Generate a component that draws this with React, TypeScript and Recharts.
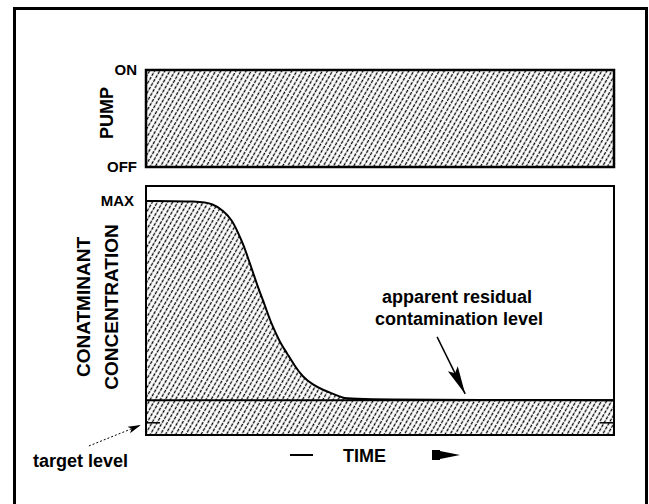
import React from "react";
import { AreaChart, Area, XAxis, YAxis, ReferenceArea, ReferenceLine, Label } from "recharts";

// time axis runs 0..100 (arbitrary units), concentration 0..100 (% of plot height)
const pumpTime = [0, 100];
const pumpState = [1, 1];
const pumpTicks = [0, 1];
const pumpTickLabels = ["OFF", "ON"];

const timePoints = [0, 11.5, 14.3, 16.5, 18.4, 19.6, 20.8, 21.8, 22.9, 23.9, 25.0, 26.1, 27.1, 28.6, 30.1, 31.8, 33.5, 35.7, 37.8, 40.0, 42.1, 43.6, 100];
const concentration = [94, 93.9, 92.8, 90.2, 86.3, 81.5, 76.5, 71.1, 65.1, 59.4, 54.2, 48.2, 43.4, 37.3, 32.9, 27.7, 23.3, 20.1, 18.1, 16.5, 14.9, 14.1, 14];
const concTicks = [94];
const concTickLabels = ["MAX"];

const residualLevel = 14;
const targetLevel = 4.9;

const FONT = "'Liberation Sans', Arial, Helvetica, sans-serif";

const pumpData = pumpTime.map((t, i) => ({ t, pump: pumpState[i] }));
const concData = timePoints.map((t, i) => ({ t, c: concentration[i] }));

function Hatch({ id }: { id: string }) {
  return (
    <pattern id={id} patternUnits="userSpaceOnUse" width="4.4" height="9" patternTransform="rotate(30)">
      <line x1="2.2" y1="0" x2="2.2" y2="9" stroke="#000" strokeWidth="1.3" strokeDasharray="3.2 1.3" />
    </pattern>
  );
}

const PumpLabel = (props: any) => {
  const vb = props.viewBox;
  const cx = vb.x + 21;
  const cy = vb.y + 43;
  return (
    <text x={cx} y={cy} transform={`rotate(-90, ${cx}, ${cy})`} textAnchor="middle" dominantBaseline="central"
      fontFamily={FONT} fontWeight="bold" fontSize={18} fill="#000">
      PUMP
    </text>
  );
};

const ConcLabel = (props: any) => {
  const vb = props.viewBox;
  const cy = vb.y + 121;
  const x1 = vb.x - 3;
  const x2 = vb.x + 25;
  return (
    <g fontFamily={FONT} fontWeight="bold" fontSize={19} fill="#000">
      <text x={x1} y={cy} transform={`rotate(-90, ${x1}, ${cy})`} textAnchor="middle" dominantBaseline="central">
        CONATMINANT
      </text>
      <text x={x2} y={cy} transform={`rotate(-90, ${x2}, ${cy})`} textAnchor="middle" dominantBaseline="central">
        CONCENTRATION
      </text>
    </g>
  );
};

const TimeLabel = (props: any) => {
  const vb = props.viewBox;
  const y = vb.y + 20;
  const ax = vb.x + 286;
  return (
    <g>
      <line x1={vb.x + 144} y1={y} x2={vb.x + 167} y2={y} stroke="#000" strokeWidth={2} />
      <text x={vb.x + 218.5} y={y + 1} textAnchor="middle" dominantBaseline="central" fontFamily={FONT} fontWeight="bold" fontSize={18} fill="#000">
        TIME
      </text>
      <rect x={ax} y={y - 5} width={8} height={10} fill="#000" />
      <polygon points={`${ax + 8},${y - 4} ${ax + 28},${y} ${ax + 8},${y + 4}`} fill="#000" />
    </g>
  );
};

export default function App() {
  return (
    <div style={{ position: "absolute", left: 0, top: 0, width: 649, height: 504, overflow: "hidden", background: "#fff" }}>
      <div style={{ position: "absolute", left: 13, top: 7, width: 629, height: 520, border: "3px solid #000", boxSizing: "content-box" }} />

      <div style={{ position: "absolute", left: 0, top: 0 }}>
        <AreaChart width={649} height={180} data={pumpData} margin={{ top: 70, right: 35, bottom: 13, left: 86 }}>
          <defs>
            <Hatch id="hatchPump" />
          </defs>
          <XAxis dataKey="t" type="number" domain={[0, 100]} hide />
          <YAxis
            type="number"
            domain={[0, 1]}
            ticks={pumpTicks}
            tickFormatter={(v: number) => pumpTickLabels[pumpTicks.indexOf(v)]}
            width={60}
            axisLine={false}
            tickLine={false}
            tickMargin={3}
            tick={{ fill: "#000", fontSize: 15, fontWeight: "bold", fontFamily: FONT }}
          >
            <Label content={PumpLabel} />
          </YAxis>
          <Area dataKey="pump" type="linear" stroke="none" fill="url(#hatchPump)" fillOpacity={1} isAnimationActive={false} />
          <ReferenceArea x1={0} x2={100} y1={0} y2={1} fill="none" stroke="#000" strokeWidth={2.5} />
        </AreaChart>
      </div>

      <div style={{ position: "absolute", left: 0, top: 180 }}>
        <AreaChart width={649} height={324} data={concData} margin={{ top: 6, right: 35, bottom: 29, left: 86 }}>
          <defs>
            <Hatch id="hatchConc" />
            <marker id="bigArrow" markerUnits="userSpaceOnUse" markerWidth="32" markerHeight="16" refX="28" refY="8" orient="auto">
              <path d="M0,2.5 L28,8 L0,13.5 L5,8 Z" fill="#000" />
            </marker>
            <marker id="smallArrow" markerUnits="userSpaceOnUse" markerWidth="16" markerHeight="10" refX="13" refY="5" orient="auto">
              <path d="M0,1.5 L13,5 L0,8.5 L3,5 Z" fill="#000" />
            </marker>
          </defs>
          <XAxis
            dataKey="t"
            type="number"
            domain={[0, 100]}
            height={40}
            axisLine={false}
            tickLine={false}
            tick={false}
          >
            <Label content={TimeLabel} />
          </XAxis>
          <YAxis
            type="number"
            domain={[0, 100]}
            ticks={concTicks}
            tickFormatter={(v: number) => concTickLabels[concTicks.indexOf(v)]}
            width={60}
            axisLine={false}
            tickLine={false}
            tickMargin={6}
            tick={{ fill: "#000", fontSize: 15, fontWeight: "bold", fontFamily: FONT }}
          >
            <Label content={ConcLabel} />
          </YAxis>
          <Area
            dataKey="c"
            type="basis"
            baseValue={0}
            stroke="#000"
            strokeWidth={2}
            fill="url(#hatchConc)"
            fillOpacity={1}
            isAnimationActive={false}
          />
          <ReferenceLine y={residualLevel} stroke="#000" strokeWidth={2} />
          <ReferenceLine segment={[{ x: 0, y: targetLevel }, { x: 3, y: targetLevel }]} stroke="#000" strokeWidth={1.5} />
          <ReferenceLine segment={[{ x: 97, y: targetLevel }, { x: 100, y: targetLevel }]} stroke="#000" strokeWidth={1.5} />
          <ReferenceLine
            segment={[{ x: 62.2, y: 39.4 }, { x: 68.2, y: 16.5 }]}
            stroke="#000"
            strokeWidth={1.5}
            markerEnd="url(#bigArrow)"
            ifOverflow="visible"
          />
          <ReferenceLine
            segment={[{ x: -12.2, y: -4.4 }, { x: -1.1, y: 4.0 }]}
            stroke="#000"
            strokeWidth={1}
            strokeDasharray="2 2"
            markerEnd="url(#smallArrow)"
            ifOverflow="visible"
          />
          <ReferenceArea x1={0} x2={100} y1={0} y2={100} fill="none" stroke="#000" strokeWidth={2} />
          <g fontFamily={FONT} fontWeight="bold" fontSize={18} fill="#000" textAnchor="middle" dominantBaseline="central">
            <text x={457} y={117}>apparent residual</text>
            <text x={459} y={138.5}>contamination level</text>
            <text x={80.5} y={281}>target level</text>
          </g>
        </AreaChart>
      </div>
    </div>
  );
}
